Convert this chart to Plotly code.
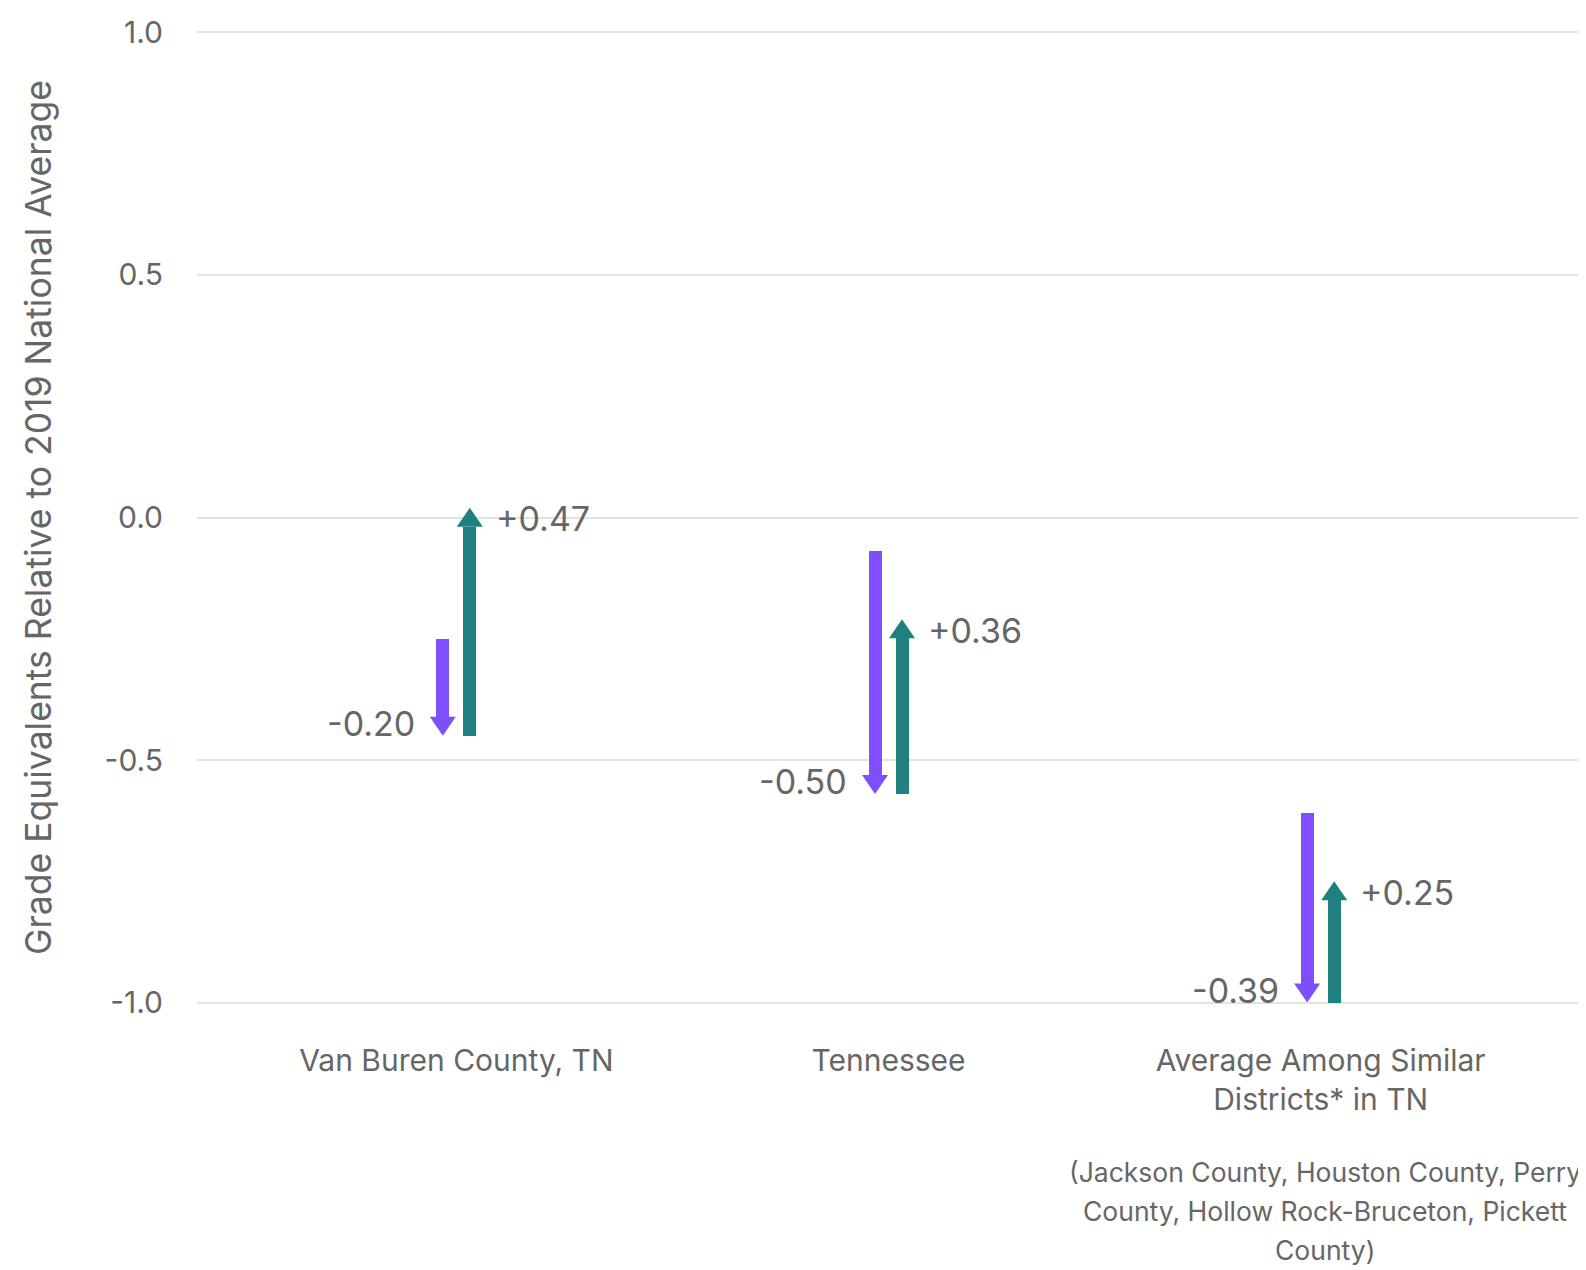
import plotly.graph_objects as go

# ---- data ----
categories = ["Van Buren County, TN", "Tennessee", "Average Among Similar<br>Districts* in TN"]
start_values = [-0.25, -0.07, -0.61]     # level before decline
decline = [-0.20, -0.50, -0.39]          # purple arrows
recovery = [0.47, 0.36, 0.25]            # teal arrows
y_ticks = [-1.0, -0.5, 0.0, 0.5, 1.0]
y_tick_labels = ["-1.0", "-0.5", "0.0", "0.5", "1.0"]
note_lines = ["(Jackson County, Houston County, Perry",
              "County, Hollow Rock-Bruceton, Pickett",
              "County)"]
y_title = "Grade Equivalents Relative to 2019 National Average"

# ---- style / layout ----
# the page body has an 8px default margin, so the figure is sized to fit the window
W, H = 1578, 1262
ML, MR, MT, MB = 189, 6, 23, 266
X_RANGE = [-0.6, 2.6]
Y_RANGE = [-1.003, 1.003]
PURPLE = "#7F4FFF"
TEAL = "#1F8080"
TXT = "#666666"
FONT = "Inter"

px_per_x = (W - ML - MR) / (X_RANGE[1] - X_RANGE[0])
px_per_y = (H - MT - MB) / (Y_RANGE[1] - Y_RANGE[0])

shaft_px = 13
head_w = 26
head_h = 19
offset_px = 13.5

fig = go.Figure()
shapes = []
annotations = []

for i, cat in enumerate(categories):
    xp = i - offset_px / px_per_x
    xt = i + offset_px / px_per_x
    s = start_values[i]
    mid = s + decline[i]
    end = mid + recovery[i]
    hh = head_h / px_per_y
    # purple shaft (down)
    fig.add_trace(go.Bar(x=[xp], base=[s], y=[decline[i] + hh], width=shaft_px / px_per_x,
                         marker=dict(color=PURPLE, line=dict(width=0)), showlegend=False,
                         hoverinfo="skip"))
    # teal shaft (up)
    fig.add_trace(go.Bar(x=[xt], base=[mid], y=[recovery[i] - hh], width=shaft_px / px_per_x,
                         marker=dict(color=TEAL, line=dict(width=0)), showlegend=False,
                         hoverinfo="skip"))
    # heads
    shapes.append(dict(type="path", xref="x", yref="y", xsizemode="pixel", ysizemode="pixel",
                       xanchor=xp, yanchor=mid,
                       path=f"M{-head_w/2},{head_h} L{head_w/2},{head_h} L0,0 Z",
                       fillcolor=PURPLE, line=dict(width=0), layer="above"))
    shapes.append(dict(type="path", xref="x", yref="y", xsizemode="pixel", ysizemode="pixel",
                       xanchor=xt, yanchor=end,
                       path=f"M{-head_w/2},{-head_h} L{head_w/2},{-head_h} L0,0 Z",
                       fillcolor=TEAL, line=dict(width=0), layer="above"))
    # labels
    annotations.append(dict(x=xp, y=mid, xref="x", yref="y", text=f"{decline[i]:+.2f}",
                            showarrow=False, xanchor="right", yanchor="middle",
                            xshift=-26, yshift=12, font=dict(family=FONT, size=34, color=TXT)))
    annotations.append(dict(x=xt, y=end, xref="x", yref="y", text=f"{recovery[i]:+.2f}",
                            showarrow=False, xanchor="left", yanchor="middle",
                            xshift=24, yshift=-11, font=dict(family=FONT, size=34, color=TXT)))

# note under third category
for k, line in enumerate(note_lines):
    annotations.append(dict(x=2, y=0, xref="x", yref="paper", text=line, showarrow=False,
                            xanchor="center", yanchor="middle", xshift=4,
                            yshift=-(168 + 39 * k),
                            font=dict(family=FONT, size=26.5, color=TXT)))

fig.update_layout(
    width=W, height=H,
    margin=dict(l=ML, r=MR, t=MT, b=MB),
    plot_bgcolor="white", paper_bgcolor="white",
    barmode="overlay", bargap=0,
    shapes=shapes, annotations=annotations,
    font=dict(family=FONT, color=TXT),
    xaxis=dict(range=X_RANGE, tickvals=list(range(len(categories))), ticktext=categories,
               showgrid=False, zeroline=False, showline=False,
               ticks="outside", ticklen=30, tickcolor="rgba(0,0,0,0)",
               tickfont=dict(family=FONT, size=30, color=TXT), fixedrange=True),
    yaxis=dict(range=Y_RANGE, tickvals=y_ticks, ticktext=y_tick_labels,
               showgrid=True, gridcolor="#E3E3E3", gridwidth=2,
               zeroline=False, showline=False,
               ticks="outside", ticklen=27, tickcolor="rgba(0,0,0,0)",
               tickfont=dict(family=FONT, size=30, color=TXT),
               title=dict(text=y_title, font=dict(family=FONT, size=35.5, color=TXT), standoff=42),
               fixedrange=True),
)

fig.write_html("out.html")
